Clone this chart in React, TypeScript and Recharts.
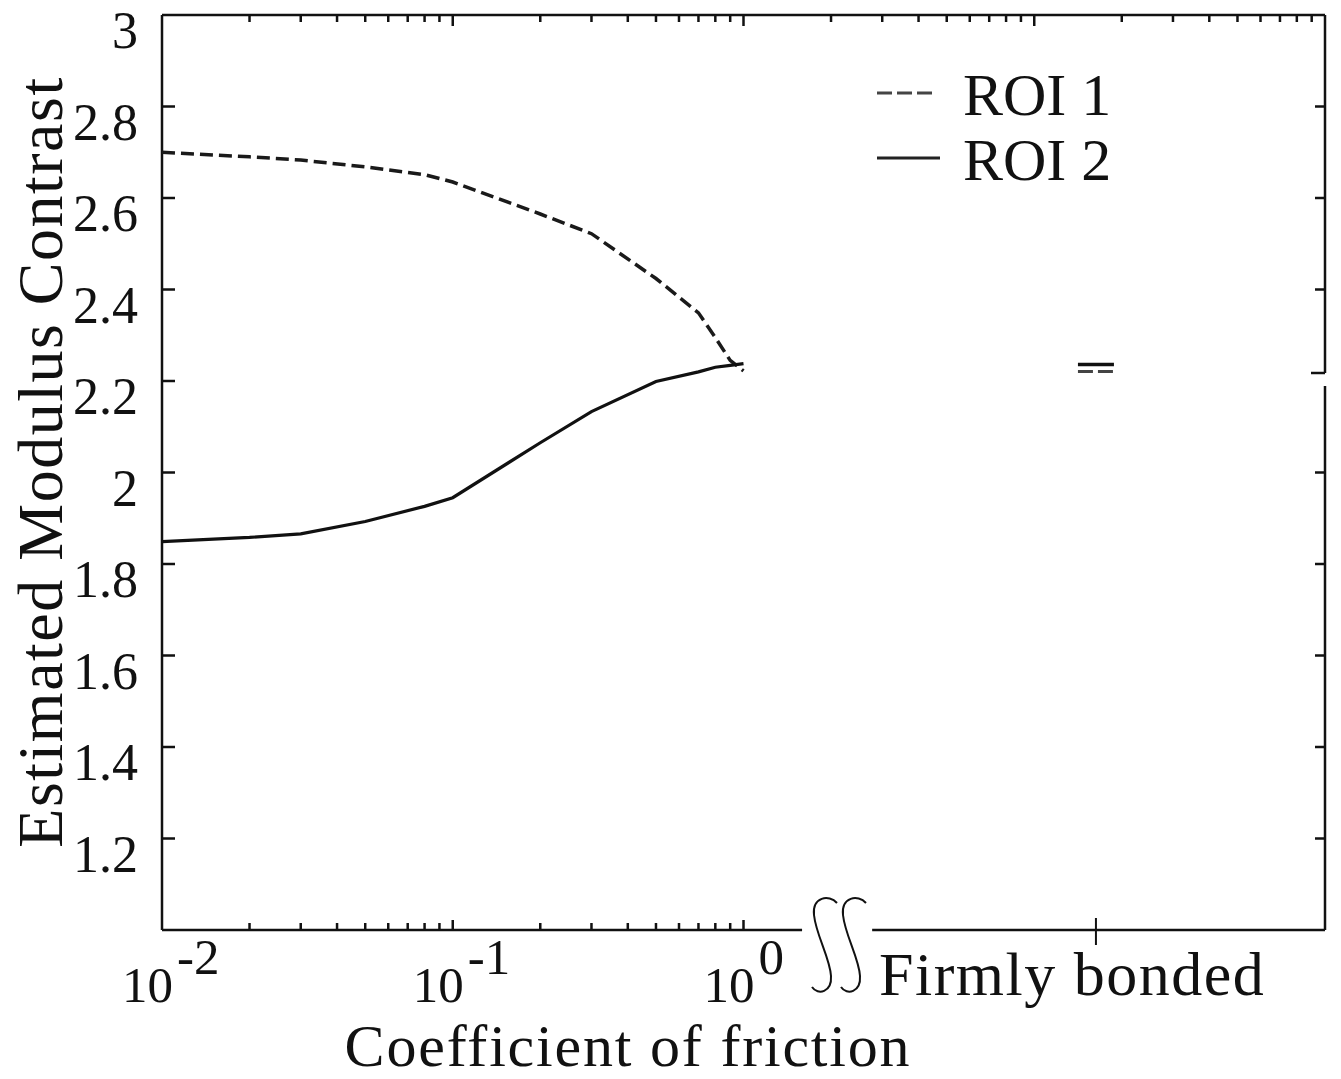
import React from 'react';
import { ComposedChart, Line, Scatter, XAxis, YAxis, ReferenceLine, Legend } from 'recharts';

const friction = [0.01, 0.02, 0.03, 0.05, 0.08, 0.1, 0.2, 0.3, 0.5, 0.7, 0.8, 0.9, 1];
const roi1 = [2.7, 2.69, 2.683, 2.668, 2.651, 2.635, 2.565, 2.522, 2.424, 2.349, 2.295, 2.245, 2.222];
const roi2 = [1.849, 1.858, 1.866, 1.893, 1.926, 1.945, 2.065, 2.133, 2.199, 2.22, 2.23, 2.234, 2.238];

// "Firmly bonded" sits past the axis break
const bondedX = 16.3;
const bondedRoi1 = 2.221;
const bondedRoi2 = 2.236;

const yTicks = [1.2, 1.4, 1.6, 1.8, 2, 2.2, 2.4, 2.6, 2.8, 3];
const yTicksRight = [1.2, 1.4, 1.6, 1.8, 2, 2.4, 2.6, 2.8];
const majorX = [0.01, 0.1, 1];
const majorExp = ['-2', '-1', '0'];
const bottomTicks = [
  0.01, 0.02, 0.03, 0.04, 0.05, 0.06, 0.07, 0.08, 0.09,
  0.1, 0.2, 0.3, 0.4, 0.5, 0.6, 0.7, 0.8, 0.9, 1, bondedX,
];
const topTicks = [
  0.02, 0.03, 0.04, 0.05, 0.06, 0.07, 0.08, 0.09,
  0.1, 0.2, 0.3, 0.4, 0.5, 0.6, 0.7, 0.8, 0.9,
  1, 2, 3, 4, 5, 6, 7, 8, 9,
  10, 20, 30, 40, 50, 60, 70, 80, 90,
];

const data = friction.map((f, i) => ({ f, roi1: roi1[i], roi2: roi2[i] }));
const bonded = [{ f: bondedX, roi1: bondedRoi1, roi2: bondedRoi2 }];

const FONT = '"Liberation Serif", "Times New Roman", serif';
const INK = '#111';
const W = 1341;
const H = 1079;

const LeftTick = ({ x, y, payload }: any) => (
  <g>
    {payload.value < 3 && <line x1={x} x2={x + 13} y1={y} y2={y} stroke={INK} strokeWidth={2.5} />}
    <text x={x - 24} y={y + 33} textAnchor="end" fontSize={52} fontFamily={FONT} fill={INK}>
      {String(payload.value)}
    </text>
  </g>
);

const RightTick = ({ x, y }: any) => (
  <line x1={x} x2={x - 10} y1={y} y2={y} stroke={INK} strokeWidth={2.5} />
);

const TopTick = ({ x, y, payload }: any) => {
  const major = [0.1, 1, 10].includes(payload.value);
  return <line x1={x} x2={x} y1={y} y2={y + (major ? 11 : 7)} stroke={INK} strokeWidth={2.5} />;
};

const BottomTick = ({ x, y, payload }: any) => {
  const v = payload.value;
  if (v === bondedX) {
    return (
      <g>
        <line x1={x} x2={x} y1={y - 12} y2={y + 15} stroke={INK} strokeWidth={2} />
        <text x={x - 217} y={y + 65} fontSize={62} letterSpacing={1.5} fontFamily={FONT} fill={INK}>
          Firmly bonded
        </text>
      </g>
    );
  }
  const i = majorX.indexOf(v);
  if (i >= 0) {
    return (
      <g>
        {v !== 0.01 && <line x1={x} x2={x} y1={y} y2={y - 10} stroke={INK} strokeWidth={2.5} />}
        <text x={x - 40} y={y + 72} fontSize={51} fontFamily={FONT} fill={INK}>
          10<tspan dx={4} dy={-28}>{majorExp[i]}</tspan>
        </text>
      </g>
    );
  }
  return <line x1={x} x2={x} y1={y} y2={y - 7} stroke={INK} strokeWidth={2.5} />;
};

const renderLegend = () => (
  <svg width={290} height={160} style={{ display: 'block' }}>
    <line x1={25} x2={80} y1={51} y2={51} stroke="#444" strokeWidth={3} strokeDasharray="15 5" />
    <text x={111} y={73} fontSize={60} fontFamily={FONT} fill={INK}>ROI 1</text>
    <line x1={25} x2={88} y1={116} y2={116} stroke="#222" strokeWidth={3} />
    <text x={111} y={138} fontSize={60} fontFamily={FONT} fill={INK}>ROI 2</text>
  </svg>
);

const YTitle = (props: any) => {
  const vb = props.viewBox || { x: 0, y: 15, width: 162, height: 915 };
  const cx = vb.x + 62;
  const cy = vb.y + 447;
  return (
    <text x={cx} y={cy} transform={`rotate(-90, ${cx}, ${cy})`} textAnchor="middle"
      fontSize={64} letterSpacing={1.5} fontFamily={FONT} fill={INK}>
      Estimated Modulus Contrast
    </text>
  );
};

const XTitle = (props: any) => {
  const vb = props.viewBox || { x: 162, y: 930, width: 1163, height: 149 };
  return (
    <text x={vb.x + 466} y={vb.y + 136} textAnchor="middle" fontSize={60} letterSpacing={1.8}
      fontFamily={FONT} fill={INK}>
      Coefficient of friction
    </text>
  );
};

const frame = { stroke: INK, strokeWidth: 2.5, ifOverflow: 'visible' as const };

export default function App() {
  return (
    <div style={{ position: 'relative', width: W, height: H, margin: '-8px 0 0 -8px', background: '#fff' }}>
      <ComposedChart width={W} height={H} data={data} margin={{ top: 14, right: 15, bottom: 0, left: 0 }}>
        <XAxis
          dataKey="f" type="number" scale="log" domain={[0.01, 100]} allowDataOverflow
          ticks={bottomTicks} tick={<BottomTick />} interval={0}
          tickLine={false} axisLine={false} tickSize={0} tickMargin={0} height={149}
          label={{ content: <XTitle /> }}
        />
        <XAxis
          xAxisId="top" orientation="top" dataKey="f" type="number" scale="log" domain={[0.01, 100]}
          allowDataOverflow ticks={topTicks} tick={<TopTick />} interval={0}
          tickLine={false} axisLine={false} tickSize={0} tickMargin={0} height={1}
        />
        <YAxis
          type="number" domain={[1, 3]} ticks={yTicks} tick={<LeftTick />} interval={0}
          tickLine={false} axisLine={false} tickSize={0} tickMargin={0} width={162} allowDataOverflow
          label={{ content: <YTitle /> }}
        />
        <YAxis
          yAxisId="right" orientation="right" type="number" domain={[1, 3]} ticks={yTicksRight}
          tick={<RightTick />} interval={0} tickLine={false} axisLine={false}
          tickSize={0} tickMargin={0} width={1} allowDataOverflow
        />

        {/* frame with axis breaks */}
        <ReferenceLine x={0.01} {...frame} />
        <ReferenceLine y={3} {...frame} />
        <ReferenceLine segment={[{ x: 0.01, y: 1 }, { x: 1.59, y: 1 }]} {...frame} />
        <ReferenceLine segment={[{ x: 2.77, y: 1 }, { x: 100, y: 1 }]} {...frame} />
        <ReferenceLine segment={[{ x: 100, y: 1 }, { x: 100, y: 2.189 }]} {...frame} />
        <ReferenceLine segment={[{ x: 100, y: 2.2175 }, { x: 100, y: 3 }]} {...frame} />

        {/* invisible series so the mirrored top/right axes get drawn */}
        <Line xAxisId="top" yAxisId="right" dataKey="roi2" stroke="none" dot={false} activeDot={false}
          isAnimationActive={false} />

        <Line dataKey="roi1" name="ROI 1" type="linear" stroke="#1a1a1a" strokeWidth={3.5}
          strokeDasharray="13 6" dot={false} isAnimationActive={false} />
        <Line dataKey="roi2" name="ROI 2" type="linear" stroke={INK} strokeWidth={3.2}
          dot={false} isAnimationActive={false} />
        <Scatter data={bonded} dataKey="roi1" isAnimationActive={false}
          shape={(p: any) => (
            <line x1={p.cx - 18} x2={p.cx + 18} y1={p.cy} y2={p.cy} stroke="#444" strokeWidth={3} strokeDasharray="15 5" />
          )} />
        <Scatter data={bonded} dataKey="roi2" isAnimationActive={false}
          shape={(p: any) => (
            <line x1={p.cx - 18} x2={p.cx + 18} y1={p.cy} y2={p.cy} stroke={INK} strokeWidth={3.5} />
          )} />

        <Legend layout="vertical" align="center" verticalAlign="middle" content={renderLegend}
          wrapperStyle={{ left: 852, top: 42, width: 290, height: 160 }} />
      </ComposedChart>

      {/* axis break marks */}
      <svg width={W} height={H} style={{ position: 'absolute', left: 0, top: 0, pointerEvents: 'none' }}>
        <g fill="none" stroke={INK} strokeWidth={2}>
          <path d="M 837 903 C 829 894 812 897 814 915 C 816 935 830 958 831 976 C 832 992 818 996 812 987" />
          <path d="M 866 903 C 858 894 841 897 843 915 C 845 935 859 958 860 976 C 861 992 847 996 841 987" />
          <line x1={1325} x2={1311} y1={373} y2={373} strokeWidth={2.5} />
        </g>
      </svg>
    </div>
  );
}
